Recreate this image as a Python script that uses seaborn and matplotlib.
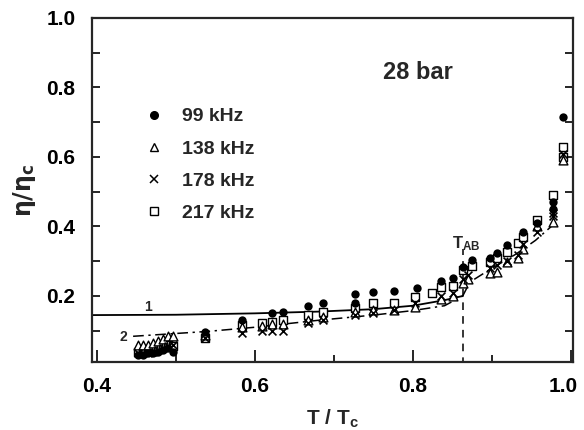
import numpy as np
import pandas as pd
import matplotlib
matplotlib.use("Agg")
import matplotlib.pyplot as plt
import matplotlib.transforms as mtrans
from matplotlib.lines import Line2D
import seaborn as sns

# ---------------- data ----------------
low_T = [0.452, 0.458, 0.465, 0.471, 0.477, 0.484, 0.490, 0.496]

t_99 = low_T + [0.537, 0.584, 0.622, 0.635, 0.667, 0.686, 0.727, 0.727, 0.749, 0.776,
                0.805, 0.835, 0.851, 0.863, 0.875, 0.897, 0.906, 0.919, 0.939, 0.957,
                0.977, 0.977, 0.990]
eta_99 = [0.030, 0.030, 0.035, 0.035, 0.040, 0.045, 0.050, 0.040,
          0.095, 0.131, 0.150, 0.154, 0.171, 0.180, 0.206, 0.180, 0.212, 0.214,
          0.223, 0.243, 0.252, 0.283, 0.304, 0.310, 0.323, 0.347, 0.384, 0.410,
          0.470, 0.450, 0.716]

t_138 = low_T + [0.537, 0.584, 0.609, 0.622, 0.635, 0.667, 0.686, 0.727, 0.749, 0.776,
                 0.803, 0.835, 0.851, 0.863, 0.870, 0.897, 0.906, 0.919, 0.933, 0.939,
                 0.957, 0.977, 0.990]
eta_138 = [0.060, 0.060, 0.060, 0.065, 0.070, 0.075, 0.085, 0.085,
           0.088, 0.110, 0.115, 0.118, 0.120, 0.130, 0.140, 0.155, 0.160, 0.160,
           0.168, 0.190, 0.200, 0.237, 0.250, 0.266, 0.270, 0.297, 0.310, 0.335,
           0.400, 0.413, 0.590]

t_178 = low_T + [0.537, 0.584, 0.609, 0.622, 0.635, 0.667, 0.686, 0.727, 0.749, 0.776,
                 0.803, 0.835, 0.851, 0.863, 0.870, 0.897, 0.906, 0.919, 0.933, 0.939,
                 0.957, 0.977, 0.977, 0.990]
eta_178 = [0.035, 0.035, 0.035, 0.040, 0.045, 0.050, 0.055, 0.060,
           0.080, 0.093, 0.100, 0.100, 0.100, 0.122, 0.131, 0.145, 0.150, 0.160,
           0.180, 0.200, 0.210, 0.250, 0.260, 0.280, 0.290, 0.300, 0.318, 0.350,
           0.384, 0.430, 0.440, 0.610]

t_217 = low_T + [0.537, 0.584, 0.609, 0.622, 0.635, 0.667, 0.686, 0.727, 0.749, 0.776,
                 0.803, 0.824, 0.835, 0.851, 0.863, 0.875, 0.897, 0.906, 0.919, 0.933,
                 0.939, 0.957, 0.977, 0.990, 0.990]
eta_217 = [0.040, 0.040, 0.045, 0.045, 0.050, 0.055, 0.060, 0.055,
           0.080, 0.116, 0.122, 0.125, 0.130, 0.145, 0.155, 0.165, 0.180, 0.180,
           0.197, 0.209, 0.226, 0.230, 0.275, 0.285, 0.297, 0.310, 0.327, 0.352,
           0.370, 0.418, 0.490, 0.630, 0.600]

curve1_T = [0.394, 0.50, 0.60, 0.68, 0.75, 0.80, 0.84, 0.863]
curve1_eta = [0.145, 0.146, 0.150, 0.155, 0.162, 0.172, 0.188, 0.200]

curve2_T = [0.446, 0.54, 0.60, 0.68, 0.75, 0.80, 0.84, 0.863, 0.872, 0.90, 0.93, 0.955, 0.975]
curve2_eta = [0.084, 0.098, 0.110, 0.130, 0.145, 0.158, 0.172, 0.200, 0.240, 0.280, 0.320, 0.360, 0.400]

T_AB = 0.863
labels = ["99 kHz", "138 kHz", "178 kHz", "217 kHz"]

# ---------------- style ----------------
sns.set_theme(style="ticks")
FAM = ["Liberation Sans Narrow", "Liberation Sans", "DejaVu Sans"]
plt.rcParams["font.family"] = FAM
plt.rcParams["font.weight"] = "bold"
plt.rcParams["mathtext.fontset"] = "custom"
plt.rcParams["mathtext.rm"] = "Liberation Sans:bold"
plt.rcParams["mathtext.bf"] = "Liberation Sans:bold"
plt.rcParams["mathtext.it"] = "Liberation Sans:bold"

fig = plt.figure(figsize=(5.84, 4.30), dpi=100)
ax = fig.add_axes([92 / 584, (430 - 362) / 430, (573 - 92) / 584, (362 - 18) / 430])

# curves
sns.lineplot(x=curve1_T, y=curve1_eta, ax=ax, color="black", lw=1.3, sort=False,
             estimator=None)
sns.lineplot(x=curve2_T, y=curve2_eta, ax=ax, color="black", lw=1.1, sort=False,
             estimator=None)
ax.lines[-1].set_dashes([7, 3, 1.5, 3])
ax.plot([T_AB, T_AB], [0.0, 0.335], color="black", lw=1.1, dashes=[5, 4])

# data points
kw = dict(ax=ax, legend=False, linewidth=1.0, edgecolor="black", zorder=3)
sns.scatterplot(x=t_217, y=eta_217, marker="s", s=40, facecolor="white", **kw)
sns.scatterplot(x=t_138, y=eta_138, marker="^", s=40, facecolor="white", **kw)
sns.scatterplot(x=t_178, y=eta_178, marker="x", s=32, color="black", ax=ax,
                legend=False, linewidth=1.2, zorder=3)
sns.scatterplot(x=t_99, y=eta_99, marker="o", s=36, color="black", ax=ax,
                legend=False, linewidth=0, zorder=4)

# axes
ax.set_xlim(0.394, 1.0025)
ax.set_ylim(0.01, 1.0)
ax.set_xticks([0.4, 0.6, 0.8, 1.0])
ax.set_xticklabels(["0.4", "0.6", "0.8", "1.0"])
ax.set_xticks([0.5, 0.7, 0.9], minor=True)
ax.set_yticks([0.2, 0.4, 0.6, 0.8, 1.0])
ax.set_yticklabels(["0.2", "0.4", "0.6", "0.8", "1.0"])
ax.set_yticks([0.1, 0.3, 0.5, 0.7, 0.9], minor=True)
for s in ax.spines.values():
    s.set_linewidth(1.6)
    s.set_visible(True)
ax.tick_params(axis="both", which="both", direction="in", width=1.2, labelsize=15,
               colors="black")
ax.tick_params(axis="x", which="major", length=9, pad=11)
ax.tick_params(axis="x", which="minor", length=5)
ax.tick_params(axis="y", which="both", length=6, pad=12, right=True)
for t in ax.get_xticklabels() + ax.get_yticklabels():
    t.set_fontweight("bold")
# keep last x tick label inside the canvas
last = ax.get_xticklabels()[-1]
last.set_transform(last.get_transform() +
                   mtrans.ScaledTranslation(-6 / 72, 0, fig.dpi_scale_trans))

ax.set_xlabel(r"T / T$_{\mathregular{c}}$", fontsize=15, fontweight="bold", labelpad=8)
ax.set_ylabel(r"η/η$_{\mathregular{c}}$", fontsize=17, fontweight="bold", labelpad=6,
              family=["DejaVu Sans"])

# annotations
ax.text(0.762, 0.842, "28 bar", fontsize=17, fontweight="bold", ha="left", va="center")
ax.text(0.465, 0.168, "1", fontsize=10, fontweight="bold", ha="center", va="center")
ax.text(0.433, 0.083, "2", fontsize=10, fontweight="bold", ha="center", va="center")
ax.text(0.849, 0.352, r"T$_{\mathregular{AB}}$", fontsize=12, fontweight="bold",
        ha="left", va="center")

handles = [
    Line2D([], [], ls="none", marker="o", ms=5.5, color="black"),
    Line2D([], [], ls="none", marker="^", ms=5.5, mfc="white", mec="black", mew=1.0),
    Line2D([], [], ls="none", marker="x", ms=5.5, color="black", mew=1.1),
    Line2D([], [], ls="none", marker="s", ms=5.5, mfc="white", mec="black", mew=1.0),
]
leg = ax.legend(handles, labels, loc="upper left", bbox_to_anchor=(0.073, 0.79),
                frameon=False, prop={"weight": "bold", "size": 14},
                handletextpad=0.9, labelspacing=0.75, handlelength=1.0)

fig.savefig("out.png", dpi=100)
